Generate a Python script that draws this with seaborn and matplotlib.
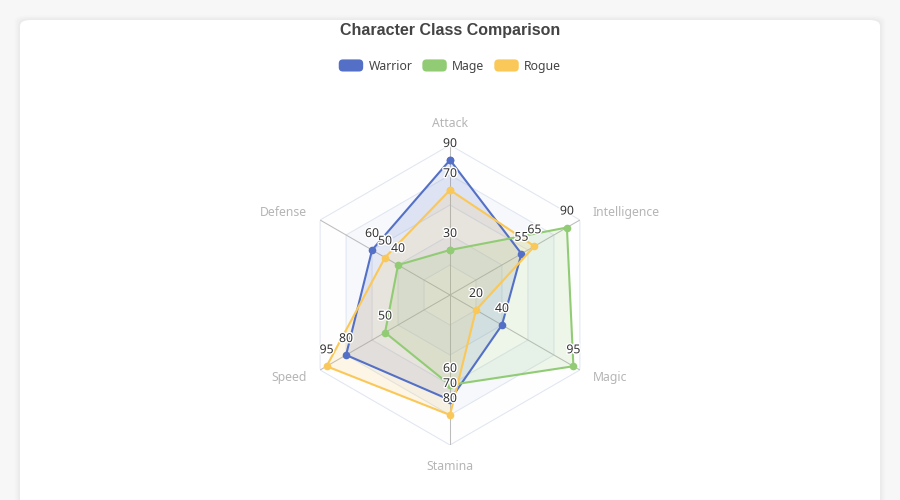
import numpy as np
import pandas as pd
import matplotlib
matplotlib.use('Agg')
import matplotlib.pyplot as plt
import matplotlib.patheffects as pe
from matplotlib.patches import FancyBboxPatch, Patch
from matplotlib.legend_handler import HandlerPatch
import seaborn as sns

# data
axes_names = ['Attack', 'Intelligence', 'Magic', 'Stamina', 'Speed', 'Defense']
classes = ['Warrior', 'Mage', 'Rogue']
warrior = [90, 55, 40, 70, 80, 60]
mage = [30, 90, 95, 60, 50, 40]
rogue = [70, 65, 20, 80, 95, 50]
max_value = 100
rings = 5
colors = ['#5470c6', '#91cc75', '#fac858']

sns.set_theme(style='white')
plt.rcParams['font.family'] = ['Noto Sans', 'DejaVu Sans']

n = len(axes_names)
angles = np.arange(n) * 2 * np.pi / n
closed_angles = np.append(angles, 2 * np.pi)

rows = []
for name, vals in zip(classes, [warrior, mage, rogue]):
    for th, v in zip(closed_angles, vals + vals[:1]):
        rows.append({'class': name, 'theta': th, 'value': v})
df = pd.DataFrame(rows)

fig = plt.figure(figsize=(9, 5), dpi=100)
fig.patch.set_facecolor('#f7f7f7')

# card background with soft shadow
for i, a in enumerate([0.02, 0.015, 0.01]):
    fig.patches.append(FancyBboxPatch((20 / 900 - (i + 1) * 0.002, -0.05), 860 / 900 + (i + 1) * 0.004,
                                      0.05 + 480 / 500 + (i + 1) * 0.003,
                                      boxstyle='round,pad=0,rounding_size=0.012', fc='black', ec='none',
                                      alpha=a, transform=fig.transFigure, zorder=-2))
fig.patches.append(FancyBboxPatch((20 / 900, -0.05), 860 / 900, 0.05 + 480 / 500,
                                  boxstyle='round,pad=0,rounding_size=0.012', fc='white', ec='none',
                                  transform=fig.transFigure, zorder=-1))

cx, cy, rad = 450, 295, 150
ax = fig.add_axes([(cx - rad) / 900, (500 - cy - rad) / 500, 2 * rad / 900, 2 * rad / 500], projection='polar')
ax.set_theta_offset(np.pi / 2)
ax.set_theta_direction(-1)
ax.set_ylim(0, max_value)
ax.grid(False)
ax.spines['polar'].set_visible(False)
ax.patch.set_alpha(0)

# split areas, outer first
area_cols = ['#fefefe', '#f6f8fc']
for k in range(rings, 0, -1):
    r = max_value * k / rings
    ax.fill(closed_angles, [r] * (n + 1), color=area_cols[(k - 1) % 2], zorder=0.5, lw=0)
for k in range(1, rings + 1):
    r = max_value * k / rings
    ax.plot(closed_angles, [r] * (n + 1), color='#e0e6f1', lw=0.75, zorder=0.6)
for th in angles:
    ax.plot([th, th], [0, max_value], color='#bcbcbc', lw=0.75, zorder=0.7)

# series fills
for name, col in zip(classes, colors):
    sub = df[df['class'] == name]
    ax.fill(sub['theta'], sub['value'], color=col, alpha=0.15, lw=0, zorder=1)

sns.lineplot(data=df, x='theta', y='value', hue='class', palette=colors, hue_order=classes,
             sort=False, estimator=None, marker='o', markersize=5.5, markeredgewidth=0,
             linewidth=1.5, legend=False, ax=ax, zorder=3)
ax.set_xlabel('')
ax.set_ylabel('')
ax.set_xticks([])
ax.set_yticks([])
ax.set_ylim(0, max_value)

# value labels
for name, vals in zip(classes, [warrior, mage, rogue]):
    for th, v in zip(angles, vals):
        ax.annotate(str(v), (th, v), xytext=(0, 10), textcoords='offset pixels', ha='center', va='bottom',
                    fontsize=8.8, color='#333333', zorder=5,
                    path_effects=[pe.withStroke(linewidth=2, foreground='white')])

# axis names
for th, name in zip(angles, axes_names):
    s = np.sin(th)
    if abs(s) < 0.1:
        ha = 'center'
        va = 'bottom' if np.cos(th) > 0 else 'top'
    else:
        ha = 'left' if s > 0 else 'right'
        va = 'center'
    ax.text(th, max_value * 1.1, name, ha=ha, va=va, fontsize=8.8, color='#b5b5b5', clip_on=False)

fig.text(0.5, 1 - 31 / 500, 'Character Class Comparison', ha='center', va='center', fontsize=11.5,
         fontweight='bold', color='#444444', family=['Liberation Sans', 'DejaVu Sans'])


class RoundHandler(HandlerPatch):
    def create_artists(self, legend, orig_handle, xdescent, ydescent, width, height, fontsize, trans):
        p = FancyBboxPatch((-xdescent, -ydescent), width, height,
                           boxstyle='round,pad=0,rounding_size=3', fc=orig_handle.get_facecolor(),
                           ec='none', transform=trans)
        return [p]


handles = [Patch(facecolor=c, label=l) for c, l in zip(colors, classes)]
fig.legend(handles=handles, loc='center', bbox_to_anchor=(0.5, 1 - 66 / 500), ncol=3, frameon=False,
           fontsize=8.8, handlelength=2.0, handleheight=1.15, handletextpad=0.45, columnspacing=0.8,
           labelcolor='#444444', handler_map={Patch: RoundHandler()})

fig.savefig('out.png', dpi=100, facecolor=fig.get_facecolor())
